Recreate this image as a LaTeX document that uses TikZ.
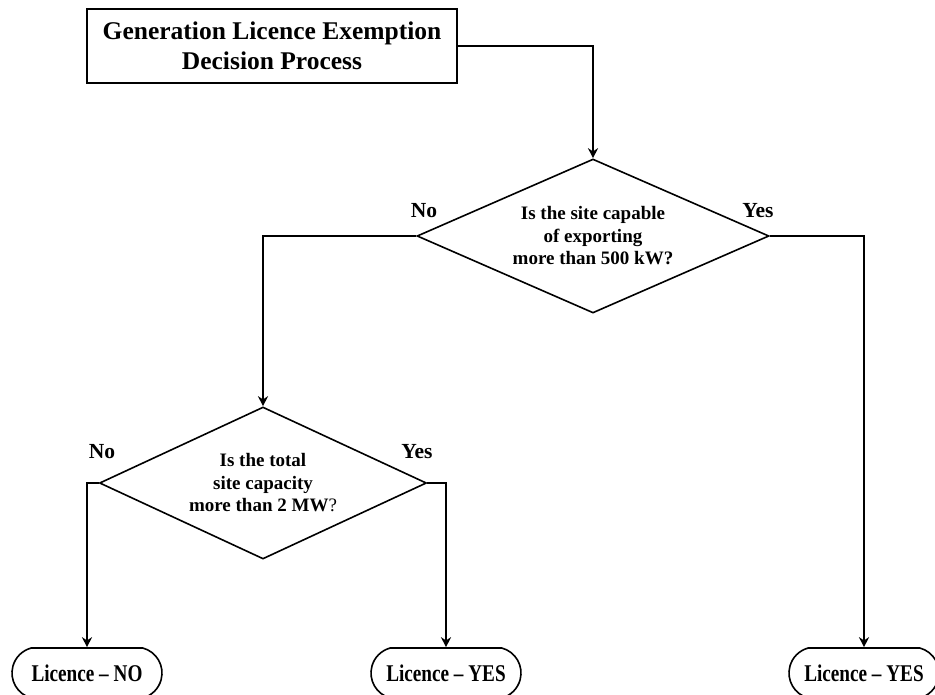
\documentclass[tikz,border=0pt]{standalone}
\usepackage{fontspec}
\setmainfont{Liberation Serif}
\newfontfamily\narrowserif[Ligatures=TeX, FakeStretch=0.8]{Liberation Serif}
\usetikzlibrary{shapes.geometric, shapes.misc, arrows.meta, positioning}

\begin{document}
\begin{tikzpicture}[x=1pt, y=-1pt, >={Stealth[length=10pt, width=10pt]},
    titlebox/.style={draw, line width=1.8pt, minimum width=370pt, minimum height=74pt,
        align=center, font=\bfseries\fontsize{25.5}{30}\selectfont},
    decision/.style={diamond, draw, line width=1.6pt, aspect=2.3, inner sep=0pt,
        align=center, font=\bfseries\fontsize{19}{22.5}\selectfont},
    outcome/.style={rounded rectangle, rounded rectangle arc length=150, draw,
        line width=1.6pt, inner xsep=1pt, minimum width=152pt, minimum height=50pt,
        font=\narrowserif\bfseries\fontsize{24}{26}\selectfont},
    answer/.style={font=\bfseries\fontsize{21.5}{24}\selectfont},
    flow/.style={->, line width=2.4pt}]
    \useasboundingbox (0, 0) rectangle (935, 694);

    % Nodes
    \node[titlebox] (title) at (272, 46) {Generation Licence Exemption\\Decision Process};
    \node[decision, minimum width=352pt, minimum height=154pt] (exports) at (593, 236)
        {Is the site capable\\of exporting\\more than 500 kW?};
    \node[decision, minimum width=327pt, minimum height=152pt] (capacity) at (263, 483)
        {Is the total\\site capacity\\more than 2 MW\textmd{?}};
    \node[outcome] (licNo) at (87, 673) {Licence -- NO};
    \node[outcome] (licYesA) at (446, 673) {Licence -- YES};
    \node[outcome] (licYesB) at (864, 673) {Licence -- YES};

    % Branch labels
    \node[answer] (noA) at (424, 211) {No};
    \node[answer] (yesA) at (758, 211) {Yes};
    \node[answer] (noB) at (102, 452) {No};
    \node[answer] (yesB) at (417, 452) {Yes};

    % Paths
    \draw[flow] (title.east) -| (exports.north);
    \draw[flow] (exports.west) -| (capacity.north);
    \draw[flow] (exports.east) -| (licYesB.north);
    \draw[flow] (capacity.west) -| (licNo.north);
    \draw[flow] (capacity.east) -| (licYesA.north);
\end{tikzpicture}
\end{document}
